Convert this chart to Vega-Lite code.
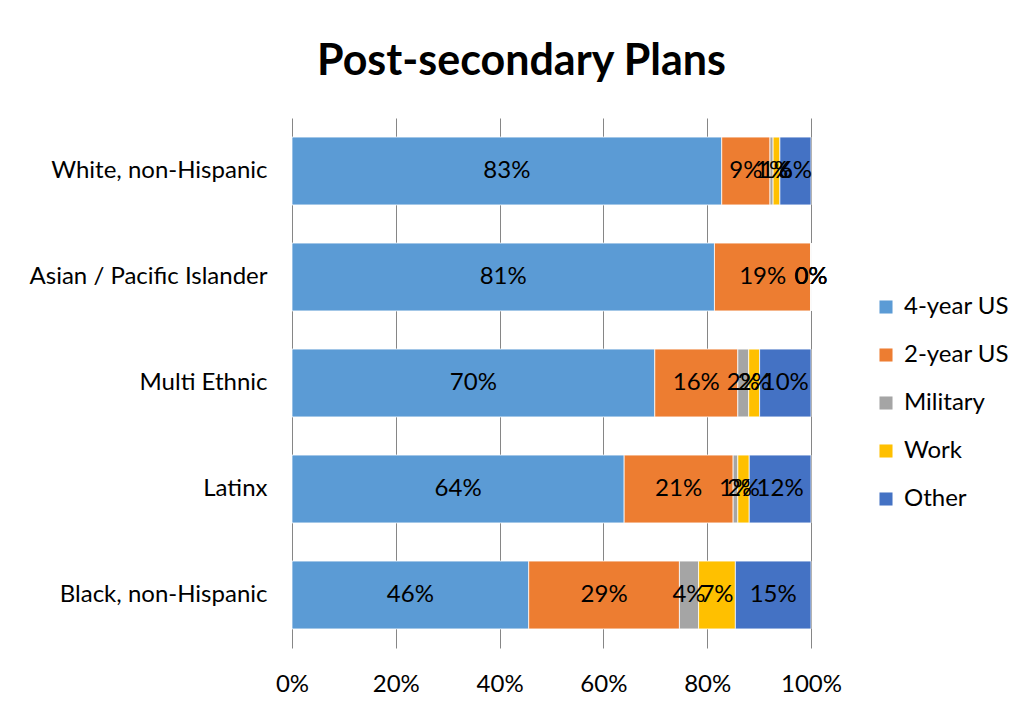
{
  "$schema": "https://vega.github.io/schema/vega-lite/v6.json",
  "width": 519,
  "height": 530,
  "autosize": {"type": "none"},
  "padding": {"left": 292, "top": 118, "right": 213, "bottom": 63},
  "background": "white",
  "title": {
    "text": "Post-secondary Plans",
    "fontSize": 43,
    "fontWeight": "bold",
    "font": "Lato",
    "color": "#000000",
    "anchor": "middle",
    "dx": -30,
    "offset": 34
  },
  "config": {
    "font": "Lato",
    "view": {"stroke": null}
  },
  "data": {
    "values": [
      {"group": "White, non-Hispanic", "plan": "4-year US", "k": 1, "v": 0.828},
      {"group": "White, non-Hispanic", "plan": "2-year US", "k": 2, "v": 0.093},
      {"group": "White, non-Hispanic", "plan": "Military", "k": 3, "v": 0.006},
      {"group": "White, non-Hispanic", "plan": "Work", "k": 4, "v": 0.013},
      {"group": "White, non-Hispanic", "plan": "Other", "k": 5, "v": 0.06},
      {"group": "Asian / Pacific Islander", "plan": "4-year US", "k": 1, "v": 0.814},
      {"group": "Asian / Pacific Islander", "plan": "2-year US", "k": 2, "v": 0.186},
      {"group": "Asian / Pacific Islander", "plan": "Military", "k": 3, "v": 0.0},
      {"group": "Asian / Pacific Islander", "plan": "Work", "k": 4, "v": 0.0},
      {"group": "Asian / Pacific Islander", "plan": "Other", "k": 5, "v": 0.0},
      {"group": "Multi Ethnic", "plan": "4-year US", "k": 1, "v": 0.699},
      {"group": "Multi Ethnic", "plan": "2-year US", "k": 2, "v": 0.16},
      {"group": "Multi Ethnic", "plan": "Military", "k": 3, "v": 0.021},
      {"group": "Multi Ethnic", "plan": "Work", "k": 4, "v": 0.021},
      {"group": "Multi Ethnic", "plan": "Other", "k": 5, "v": 0.099},
      {"group": "Latinx", "plan": "4-year US", "k": 1, "v": 0.64},
      {"group": "Latinx", "plan": "2-year US", "k": 2, "v": 0.21},
      {"group": "Latinx", "plan": "Military", "k": 3, "v": 0.009},
      {"group": "Latinx", "plan": "Work", "k": 4, "v": 0.022},
      {"group": "Latinx", "plan": "Other", "k": 5, "v": 0.119},
      {"group": "Black, non-Hispanic", "plan": "4-year US", "k": 1, "v": 0.457},
      {"group": "Black, non-Hispanic", "plan": "2-year US", "k": 2, "v": 0.291},
      {"group": "Black, non-Hispanic", "plan": "Military", "k": 3, "v": 0.037},
      {"group": "Black, non-Hispanic", "plan": "Work", "k": 4, "v": 0.071},
      {"group": "Black, non-Hispanic", "plan": "Other", "k": 5, "v": 0.146}
    ]
  },
  "transform": [
    {"stack": "v", "groupby": ["group"], "sort": [{"field": "k", "order": "ascending"}], "offset": "normalize", "as": ["v0", "v1"]},
    {"calculate": "(datum.v0 + datum.v1) / 2", "as": "vmid"}
  ],
  "encoding": {
    "y": {
      "field": "group",
      "type": "nominal",
      "sort": ["White, non-Hispanic", "Asian / Pacific Islander", "Multi Ethnic", "Latinx", "Black, non-Hispanic"],
      "scale": {"paddingInner": 0.36, "paddingOuter": 0.18},
      "axis": {"title": null, "domain": false, "ticks": false, "labelFontSize": 24, "labelColor": "#000000", "labelPadding": 25, "labelFont": "Lato", "labelLimit": 400}
    }
  },
  "layer": [
    {
      "mark": {"type": "bar", "stroke": "white", "strokeWidth": 0.75},
      "encoding": {
        "x": {
          "field": "v0",
          "type": "quantitative",
          "scale": {"domain": [0, 1], "nice": false},
          "axis": {
            "title": null,
            "format": ".0%",
            "values": [0, 0.2, 0.4, 0.6, 0.8, 1],
            "domain": false,
            "ticks": false,
            "grid": true,
            "gridColor": "#868686",
            "gridWidth": 1,
            "gridOpacity": 1,
            "labelFontSize": 24,
            "labelColor": "#000000",
            "labelPadding": 24,
            "labelFont": "Lato",
            "labelFlush": false
          }
        },
        "x2": {"field": "v1"},
        "color": {
          "field": "plan",
          "type": "nominal",
          "scale": {
            "domain": ["4-year US", "2-year US", "Military", "Work", "Other"],
            "range": ["#5B9BD5", "#ED7D31", "#A5A5A5", "#FFC000", "#4472C4"]
          },
          "legend": {
            "title": null,
            "orient": "none",
            "legendX": 582,
            "legendY": 177,
            "symbolType": "square",
            "symbolSize": 170,
            "symbolStrokeWidth": 0,
            "labelFontSize": 24,
            "labelColor": "#000000",
            "labelFont": "Lato",
            "rowPadding": 24,
            "labelOffset": 6
          }
        }
      }
    },
    {
      "mark": {"type": "text", "fontSize": 24, "color": "#000000", "font": "Lato"},
      "encoding": {
        "x": {"field": "vmid", "type": "quantitative"},
        "text": {"field": "v", "type": "quantitative", "format": ".0%"}
      }
    }
  ]
}
